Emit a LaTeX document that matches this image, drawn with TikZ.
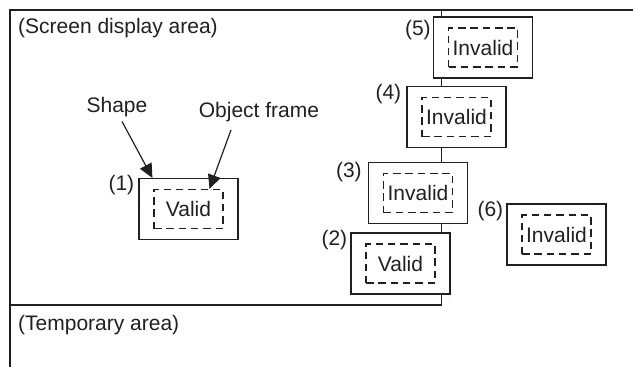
\documentclass[tikz,border=0pt]{standalone}
\usepackage{fontspec}
\setmainfont{Liberation Sans}
\usetikzlibrary{arrows.meta}
\definecolor{inkgray}{RGB}{35,31,32}

\newcommand*{\divx}{441.7}
\newcommand*{\divy}{305}

\begin{document}
\begin{tikzpicture}
[
	x=1pt, y=-1pt,
	font=\fontsize{21}{24}\selectfont,
	ink/.style={draw=inkgray, line width=1.2pt},
	shapebox/.style={ink, fill=white, minimum width=99pt, minimum height=61pt, inner sep=0pt},
	objframe/.style={ink, dash pattern=on 7.5pt off 4.8pt, minimum width=69pt, minimum height=39pt, inner sep=0pt, text=inkgray},
	numlbl/.style={anchor=east, inner sep=0pt, text=inkgray},
	pointer/.style={ink, -{Triangle[length=14pt,width=13pt]}}
]
	\useasboundingbox (0,0) rectangle (633,367);

	% areas
	\draw[ink] (633,10) -- (10,10) -- (10,367);
	\draw[ink] (10,\divy) -- (\divx,\divy) -- (\divx,10);
	\node[anchor=west, inner sep=0pt, text=inkgray] (scr) at (18,28) {(Screen display area)};
	\node[anchor=west, inner sep=0pt, text=inkgray] (tmp) at (18,325) {(Temporary area)};

	% shapes with object frames
	\node[shapebox] (b1) at (188.5,209) {};
	\node[objframe] (f1) at (b1) {Valid};
	\node[shapebox] (b2) at (400.5,263.5) {};
	\node[objframe] (f2) at (b2) {Valid};
	\node[shapebox] (b3) at (418,193) {};
	\node[objframe] (f3) at (b3) {Invalid};
	\node[shapebox] (b4) at (456.5,117) {};
	\node[objframe] (f4) at (b4) {Invalid};
	\node[shapebox] (b5) at (483,47.5) {};
	\node[objframe] (f5) at (b5) {Invalid};
	\node[shapebox] (b6) at (556.5,234.5) {};
	\node[objframe] (f6) at (b6) {Invalid};

	% numbers
	\node[numlbl] (n1) at ([xshift=-4pt,yshift=-7pt]b1.north west) {(1)};
	\node[numlbl] (n2) at ([xshift=-3pt,yshift=-8pt]b2.north west) {(2)};
	\node[numlbl] (n3) at ([xshift=-6pt,yshift=-10pt]b3.north west) {(3)};
	\node[numlbl] (n4) at ([xshift=-5pt,yshift=-8pt]b4.north west) {(4)};
	\node[numlbl] (n5) at ([xshift=-2pt,yshift=-14pt]b5.north west) {(5)};
	\node[numlbl] (n6) at ([xshift=-3pt,yshift=-8pt]b6.north west) {(6)};

	% pointers
	\node[inner sep=0pt, text=inkgray] (shp) at (117,107.5) {Shape};
	\node[inner sep=0pt, text=inkgray] (obj) at (259,112) {Object frame};
	\draw[pointer] ([xshift=5pt,yshift=-4pt]shp.south) -- ([xshift=14pt]b1.north west);
	\draw[pointer] ([xshift=-28pt,yshift=-8pt]obj.south) -- ([xshift=21pt]f1.north);

\end{tikzpicture}
\end{document}
